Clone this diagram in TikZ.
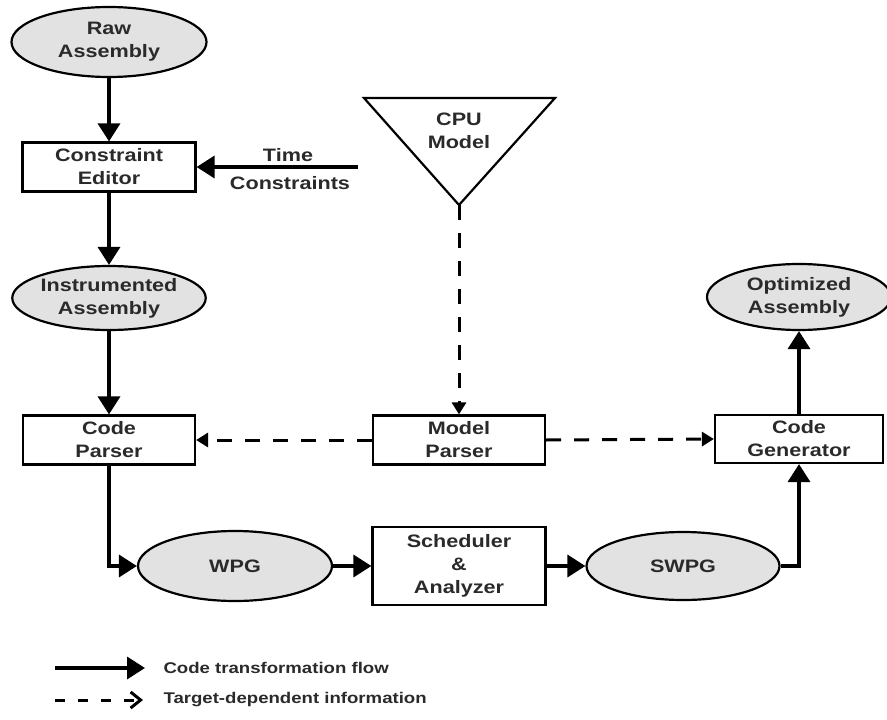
\documentclass[tikz,border=0pt]{standalone}
\usepackage{fontspec}
\setmainfont{Liberation Sans}[FakeStretch=1.2]
\usetikzlibrary{shapes.geometric,arrows.meta}
\definecolor{ovalgray}{HTML}{E2E2E2}
\definecolor{txtgray}{HTML}{2A2A2A}
\tikzset{
  every node/.style={font=\fontsize{18}{23}\selectfont\bfseries, text=txtgray},
  box/.style={draw, line width=2.2pt, fill=white, minimum width=172pt, minimum height=49pt, inner sep=0pt, align=center},
  oval/.style={ellipse, draw, line width=2.2pt, fill=ovalgray, inner sep=0pt, align=center},
  flow/.style={line width=3.5pt, -{Triangle[length=18pt,width=22pt]}},
  info/.style={line width=3pt, dash pattern=on 15pt off 13pt, -{Triangle[length=12pt,width=14pt]}},
  legtext/.style={anchor=west, font=\fontsize{15.5}{18}\selectfont\bfseries}
}
\begin{document}
\begin{tikzpicture}[x=1pt, y=-1pt]
  \useasboundingbox (0,0) rectangle (887,720);
  % left column
  \node[oval, minimum width=195pt, minimum height=70pt] (raw) at (109,42) {Raw\\Assembly};
  \node[box, minimum width=173pt] (ce) at (109,167) {Constraint\\Editor};
  \node[oval, minimum width=188pt, minimum height=64pt] (ia) at (109,298) {Instrumented\\Assembly};
  \node[box] (cp) at (109,440) {Code\\Parser};
  % time constraints input
  \coordinate (tcend) at (358,167);
  \node (tctime) at (288,155) {Time};
  \node (tccons) at (290,183) {Constraints};
  % cpu model
  \coordinate (cpuapex) at (459,205);
  \draw[line width=2.2pt, line join=miter] (364,98) -- (555,98) -- (cpuapex) -- cycle;
  \node[align=center] (cpu) at (459,131) {CPU\\Model};
  % middle and right
  \node[box] (mp) at (459,440) {Model\\Parser};
  \node[box, minimum width=168pt, minimum height=48pt] (cg) at (799,439) {Code\\Generator};
  \node[oval, minimum width=184pt, minimum height=66pt] (oa) at (799,297) {Optimized\\Assembly};
  % bottom row
  \node[oval, minimum width=194pt, minimum height=70pt] (wpg) at (235,566) {WPG};
  \node[box, minimum width=173pt, minimum height=78pt] (sa) at (459,566) {Scheduler\\\&\\Analyzer};
  \node[oval, minimum width=193pt, minimum height=68pt] (swpg) at (683,566) {SWPG};
  % code transformation flow
  \draw[flow] (raw) -- (ce);
  \draw[flow] (tcend) -- (ce);
  \draw[flow] (ce) -- (ia);
  \draw[flow] (ia) -- (cp);
  \draw[flow] (cp.south) |- (wpg.west);
  \draw[flow] (wpg) -- (sa);
  \draw[flow] (sa) -- (swpg);
  \draw[flow] (swpg.east) -| (cg.south);
  \draw[flow] (cg) -- (oa);
  % target-dependent information
  \draw[info] (cpuapex) -- (mp.north);
  \draw[info] (mp.west) -- (cp.east);
  \draw[info] (mp.east) -- (cg.west);
  % legend
  \coordinate (lgflowa) at (55,668);
  \coordinate (lgflowb) at (145,668);
  \coordinate (lginfoa) at (55,700);
  \coordinate (lginfob) at (143,700);
  \draw[flow] (lgflowa) -- (lgflowb);
  \draw[line width=3pt, dash pattern=on 10pt off 13pt, -{Straight Barb[length=10pt,width=16pt,line width=3pt]}] (lginfoa) -- (lginfob);
  \node[legtext] (lgflow) at (160,668) {Code transformation flow};
  \node[legtext] (lginfo) at (160,700) {Target-dependent information};
\end{tikzpicture}
\end{document}
